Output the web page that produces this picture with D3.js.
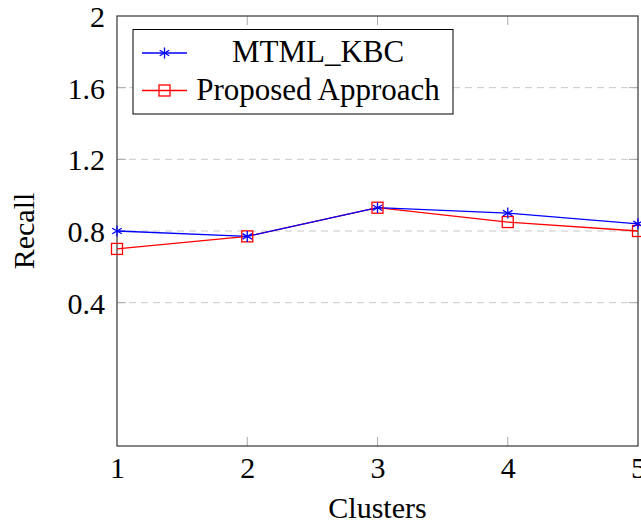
<!DOCTYPE html>
<html lang="en">
<head>
<meta charset="UTF-8">
<title>Recall vs Clusters</title>
<script src="https://cdn.jsdelivr.net/npm/d3@7"></script>
<style>
  body { margin: 0; background: #fff; }
  svg text { font-family: "Liberation Serif", "Times New Roman", Times, "DejaVu Serif", serif !important; fill: #000; }
</style>
</head>
<body>
<svg width="641" height="525"></svg>
<script>
// data
const clusters = [1, 2, 3, 4, 5];
const mtmlKbc = [0.80, 0.77, 0.93, 0.90, 0.84];
const proposed = [0.70, 0.77, 0.93, 0.85, 0.80];
const yTicks = [0.4, 0.8, 1.2, 1.6, 2];
const seriesNames = ["MTML_KBC", "Proposed Approach"];

const width = 641, height = 525;
const margin = { top: 16, right: 3, bottom: 79, left: 117 };
const fs = 30;

const svg = d3.select("svg");

const x = d3.scaleLinear().domain([1, 5]).range([margin.left, width - margin.right]);
const y = d3.scaleLinear().domain([-0.4, 2]).range([height - margin.bottom, margin.top]);

// grid lines
svg.append("g")
  .selectAll("line")
  .data(yTicks.filter(d => d < 2))
  .join("line")
  .attr("x1", x(1)).attr("x2", x(5))
  .attr("y1", d => y(d)).attr("y2", d => y(d))
  .attr("stroke", "#c8c8c8")
  .attr("stroke-width", 1)
  .attr("stroke-dasharray", "7,5");

// tick marks inside the frame
const tickLen = 9;
const tickCol = "#aaa";
const inner = svg.append("g").attr("stroke", tickCol).attr("stroke-width", 1);
clusters.slice(1, -1).forEach(c => {
  inner.append("line").attr("x1", x(c)).attr("x2", x(c)).attr("y1", y(-0.4)).attr("y2", y(-0.4) - tickLen);
  inner.append("line").attr("x1", x(c)).attr("x2", x(c)).attr("y1", y(2)).attr("y2", y(2) + tickLen);
});
yTicks.filter(d => d < 2).forEach(t => {
  inner.append("line").attr("x1", x(1)).attr("x2", x(1) + tickLen).attr("y1", y(t)).attr("y2", y(t));
  inner.append("line").attr("x1", x(5)).attr("x2", x(5) - tickLen).attr("y1", y(t)).attr("y2", y(t));
});

// x axis labels
const xAxis = svg.append("g")
  .attr("transform", `translate(0,${y(-0.4)})`)
  .call(d3.axisBottom(x).tickValues(clusters).tickFormat(d3.format("d")).tickSize(0));
xAxis.attr("font-family", null);
xAxis.select(".domain").remove();
xAxis.selectAll("text")
  .attr("y", 32).attr("dy", 0)
  .style("font-size", fs + "px")
  .attr("fill", "#000");

// y axis labels
const yAxis = svg.append("g")
  .attr("transform", `translate(${x(1)},0)`)
  .call(d3.axisLeft(y).tickValues(yTicks).tickFormat(d => d === 2 ? "2" : d3.format(".1f")(d)).tickSize(0));
yAxis.attr("font-family", null);
yAxis.select(".domain").remove();
yAxis.selectAll("text")
  .attr("x", -12).attr("dy", "0.35em")
  .style("font-size", fs + "px")
  .attr("fill", "#000");

// frame
svg.append("rect")
  .attr("x", x(1)).attr("y", y(2))
  .attr("width", x(5) - x(1)).attr("height", y(-0.4) - y(2))
  .attr("fill", "none")
  .attr("stroke", "#444")
  .attr("stroke-width", 1.3);

// axis titles
svg.append("text")
  .attr("x", (x(1) + x(5)) / 2).attr("y", 518)
  .attr("text-anchor", "middle")
  .style("font-size", fs + "px")
  .text("Clusters");

svg.append("text")
  .attr("transform", `translate(34,${(y(2) + y(-0.4)) / 2}) rotate(-90)`)
  .attr("text-anchor", "middle")
  .style("font-size", fs + "px")
  .text("Recall");

// markers
function asterisk(g, cx, cy, r, color) {
  [90, 30, -30].forEach(a => {
    const rad = a * Math.PI / 180;
    g.append("line")
      .attr("x1", cx - r * Math.cos(rad)).attr("y1", cy - r * Math.sin(rad))
      .attr("x2", cx + r * Math.cos(rad)).attr("y2", cy + r * Math.sin(rad))
      .attr("stroke", color).attr("stroke-width", 1.3);
  });
}
function square(g, cx, cy, s, color) {
  g.append("rect")
    .attr("x", cx - s / 2).attr("y", cy - s / 2)
    .attr("width", s).attr("height", s)
    .attr("fill", "none").attr("stroke", color).attr("stroke-width", 1.3);
}

const line = d3.line().x((d, i) => x(clusters[i])).y(d => y(d));

const series = [
  { values: mtmlKbc, color: "#0000ff", mark: asterisk, size: 5.5 },
  { values: proposed, color: "#ff0000", mark: square, size: 11 }
];

// draw red first so blue sits on top like the figure
[series[1], series[0]].forEach(s => {
  svg.append("path")
    .datum(s.values)
    .attr("d", line)
    .attr("fill", "none")
    .attr("stroke", s.color)
    .attr("stroke-width", 1.3);
});
const marks = svg.append("g");
[series[1], series[0]].forEach(s => {
  s.values.forEach((v, i) => s.mark(marks, x(clusters[i]), y(v), s.size, s.color));
});

// legend
const lg = svg.append("g");
lg.append("rect")
  .attr("x", 133).attr("y", 29.5)
  .attr("width", 320).attr("height", 84.5)
  .attr("fill", "#fff")
  .attr("stroke", "#000")
  .attr("stroke-width", 1);
series.forEach((s, i) => {
  const cy = 53 + i * 37.5;
  lg.append("line")
    .attr("x1", 142).attr("x2", 187)
    .attr("y1", cy).attr("y2", cy)
    .attr("stroke", s.color).attr("stroke-width", 1.3);
  s.mark(lg, 164.5, cy, s.size, s.color);
  lg.append("text")
    .attr("x", 318).attr("y", cy + 9)
    .attr("text-anchor", "middle")
    .style("font-size", "31px")
    .text(seriesNames[i]);
});
</script>
</body>
</html>
